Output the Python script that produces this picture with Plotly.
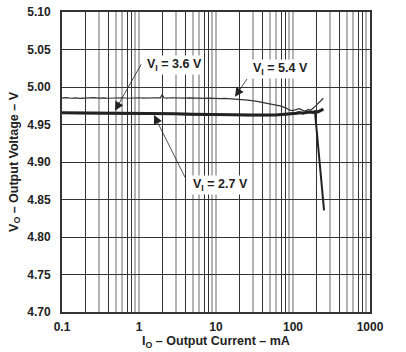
import numpy as np
import plotly.graph_objects as go

# ---------------- data ----------------
i_54 = [0.1, 0.115, 0.13, 0.15, 0.17, 0.2, 0.23, 0.26, 0.3, 0.35, 0.4, 0.46, 0.53, 0.6, 0.7,
        0.8, 0.9, 1.0, 1.15, 1.3, 1.5, 1.7, 1.9, 2.0, 2.1, 2.3, 2.6, 3.0, 3.5, 4.0, 4.6, 5.3,
        6.0, 7.0, 8.0, 9.0, 10, 11.5, 13, 15, 20, 26, 34, 46, 60, 70, 80, 90, 100, 110, 120,
        130, 140, 150, 160, 170, 180, 190, 200, 213, 225, 235, 248]
v_54 = [4.9852, 4.9858, 4.9850, 4.9856, 4.9849, 4.9855, 4.9853, 4.9858, 4.9851, 4.9856,
        4.9850, 4.9855, 4.9852, 4.9857, 4.9850, 4.9855, 4.9853, 4.9857, 4.9851, 4.9856,
        4.9852, 4.9857, 4.9855, 4.9900, 4.9856, 4.9852, 4.9857, 4.9853, 4.9856, 4.9851,
        4.9855, 4.9850, 4.9853, 4.9848, 4.9851, 4.9846, 4.9849, 4.9845, 4.9848, 4.9845,
        4.9838, 4.9826, 4.9808, 4.9785, 4.9760, 4.9745, 4.9722, 4.9692, 4.9685, 4.9695,
        4.9710, 4.9695, 4.9680, 4.9688, 4.9700, 4.9690, 4.9718, 4.9735, 4.9755, 4.9784,
        4.9810, 4.9830, 4.9850]

i_36 = [0.1, 0.3, 1, 3, 5, 10, 15, 30, 60, 90, 110, 120, 135, 150, 165, 180, 195, 210, 225, 248]
v_36 = [4.9656, 4.9654, 4.9650, 4.9642, 4.9636, 4.9630, 4.9628, 4.9625, 4.9628, 4.9640,
        4.9650, 4.9660, 4.9650, 4.9662, 4.9668, 4.9660, 4.9672, 4.9668, 4.9688, 4.9706]

i_27 = [0.1, 0.3, 1, 3, 5, 10, 15, 30, 60, 90, 110, 130, 150, 170, 193, 253]
v_27 = [4.9653, 4.9651, 4.9648, 4.9640, 4.9633, 4.9628, 4.9625, 4.9623, 4.9626, 4.9638,
        4.9646, 4.9652, 4.9656, 4.9662, 4.9666, 4.8355]

x_ticks = [0.1, 1, 10, 100, 1000]
x_tick_text = ["0.1", "1", "10", "100", "1000"]
y_ticks = [4.70, 4.75, 4.80, 4.85, 4.90, 4.95, 5.00, 5.05, 5.10]
decades = [0.1, 1, 10, 100]
dark_mult = [2, 4, 7, 8]
gray_mult = [3, 5, 6, 9]

dark_grid = [d * m for d in decades for m in dark_mult]
gray_grid = [d * m for d in decades for m in gray_mult]

FONT = "Liberation Sans, Arial, sans-serif"
INK = "#222222"

fig = go.Figure()
fig.add_trace(go.Scatter(x=i_27, y=v_27, mode="lines", line=dict(color=INK, width=2),
                         showlegend=False, hoverinfo="skip"))
fig.add_trace(go.Scatter(x=i_36, y=v_36, mode="lines", line=dict(color=INK, width=3),
                         showlegend=False, hoverinfo="skip"))
fig.add_trace(go.Scatter(x=i_54, y=v_54, mode="lines", line=dict(color="#333333", width=1.2),
                         showlegend=False, hoverinfo="skip"))
# dummy trace to anchor overlay axis
fig.add_trace(go.Scatter(x=[0.1], y=[4.7], mode="markers", marker=dict(opacity=0),
                         xaxis="x2", showlegend=False, hoverinfo="skip"))

fig.update_layout(
    width=406, height=352,
    margin=dict(l=62, r=36, t=5, b=40),
    paper_bgcolor="white", plot_bgcolor="white",
    font=dict(family=FONT, size=12, color=INK, weight="bold"),
    xaxis=dict(
        type="log", range=[-1, 3], tickvals=x_ticks, ticktext=x_tick_text,
        showgrid=True, gridcolor="#b4b4b4", gridwidth=2,
        minor=dict(tickvals=gray_grid, showgrid=True, gridcolor="#b4b4b4", gridwidth=2, ticks=""),
        ticks="", ticklabelstandoff=3,
        showline=True, linecolor="#333333", linewidth=2, mirror=True,
        zeroline=False,
        tickfont=dict(size=12, family=FONT, weight="bold"),
        title=dict(text="I<sub>O</sub> – Output Current – mA", standoff=3,
                   font=dict(size=12.5, family=FONT, weight="bold")),
    ),
    xaxis2=dict(
        type="log", range=[-1, 3], overlaying="x", anchor="y", tickvals=dark_grid,
        showticklabels=False, showgrid=True, gridcolor="#333333", gridwidth=1,
        ticks="", showline=False, zeroline=False,
    ),
    yaxis=dict(
        range=[4.70, 5.10], tickvals=y_ticks, tickformat=".2f",
        showgrid=True, gridcolor="#333333", gridwidth=1,
        ticks="", ticklabelstandoff=7,
        showline=True, linecolor="#333333", linewidth=2, mirror=True,
        zeroline=False,
        tickfont=dict(size=12, family=FONT, weight="bold"),
        title=dict(text="V<sub>O</sub> – Output Voltage – V", standoff=6,
                   font=dict(size=12.5, family=FONT, weight="bold")),
    ),
)

lg = np.log10

labels = [
    ("V<sub>I</sub> = 3.6 V", 10 ** 0.4545, 5.0296),
    ("V<sub>I</sub> = 5.4 V", 10 ** 1.8377, 5.0244),
    ("V<sub>I</sub> = 2.7 V", 10 ** 1.052, 4.8687),
]
for txt, xi, yv in labels:
    fig.add_annotation(x=lg(xi), y=yv, xref="x", yref="y", text=txt, showarrow=False,
                       bgcolor="white", borderpad=1,
                       font=dict(family=FONT, size=12.5, color=INK, weight="bold"))

arrows = [
    # (tail I, tail V, tip I, tip V)
    (10 ** 0.039, 5.0322, 10 ** -0.312, 4.9685),
    (10 ** 1.4156, 5.0127, 10 ** 1.2468, 4.9870),
    (10 ** 0.610, 4.8772, 10 ** 0.1948, 4.9625),
]
for ti, tv, hi, hv in arrows:
    fig.add_annotation(x=lg(hi), y=hv, ax=lg(ti), ay=tv, xref="x", yref="y",
                       axref="x", ayref="y", text="", showarrow=True,
                       arrowhead=2, arrowsize=2.2, arrowwidth=0.8, arrowcolor=INK,
                       standoff=0, startstandoff=0)

fig.write_html("out.html")
